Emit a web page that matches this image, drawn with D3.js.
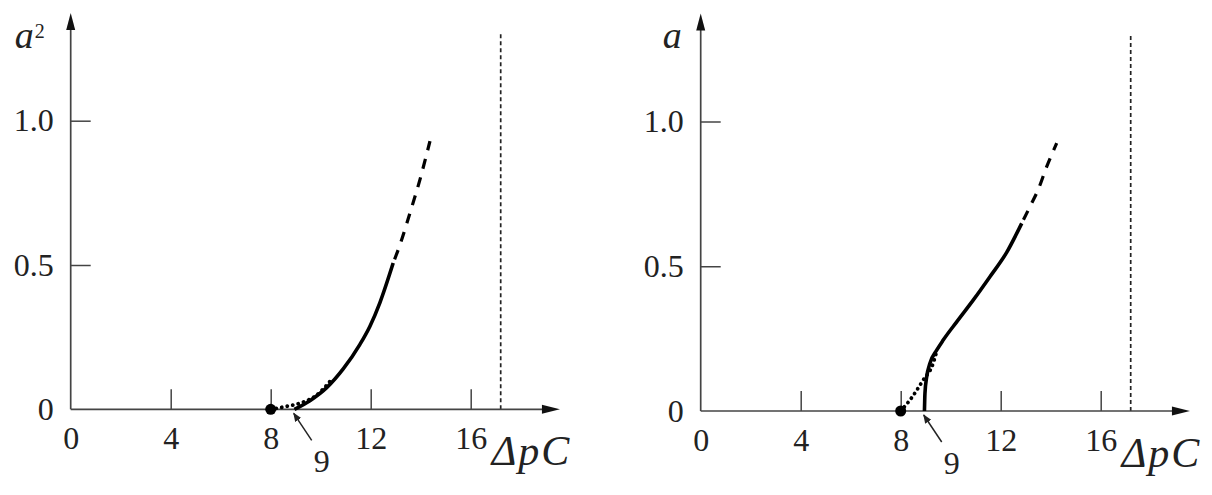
<!DOCTYPE html>
<html>
<style>
body { margin: 0; background: #fff; }
svg text { font-family: 'Liberation Serif', 'DejaVu Serif', serif; fill: #222; }
.axis path.domain { display: none; }
.axis line { stroke: #444; stroke-width: 1.5px; }
</style>
<svg width="1212" height="495"></svg>
<script src="https://cdn.jsdelivr.net/npm/d3@7"></script>
<script>
// ticks and limits
var xTicks = [0, 4, 8, 12, 16];
var yTicks = [0, 0.5, 1.0];
var limitX = 17.2;
var startX = 8;
var markX = 9;

// left panel: a^2 vs dpC
var leftSolid = [[8.95, 0], [9.57, 0.03], [10.24, 0.075], [10.9, 0.14], [11.57, 0.225],
                 [11.97, 0.288], [12.37, 0.37], [12.9, 0.507]];
var leftDashed = [[12.9, 0.507], [13.17, 0.57], [13.57, 0.68], [13.97, 0.796], [14.37, 0.929]];
var leftDotted = [[8, 0], [8.5, 0.008], [9.2, 0.022], [9.85, 0.05], [10.4, 0.1]];

// right panel: a vs dpC
var rightSolid = [[8.95, 0], [8.97, 0.061], [9.04, 0.118], [9.17, 0.165], [9.44, 0.21], [9.7, 0.245],
                  [10.24, 0.308], [10.9, 0.383], [11.57, 0.464], [12.24, 0.548], [12.84, 0.648]];
var rightDashed = [[12.84, 0.648], [13.17, 0.706], [13.5, 0.765], [13.84, 0.844], [14.24, 0.925]];
var rightDotted = [[8, 0], [8.37, 0.038], [8.9, 0.107], [9.3, 0.165], [9.45, 0.21]];

var svg = d3.select("svg");
var serif = "'Liberation Serif', 'DejaVu Serif', serif";

svg.append("defs").append("marker")
    .attr("id", "tip")
    .attr("viewBox", "0 0 10 10")
    .attr("refX", 9).attr("refY", 5)
    .attr("markerWidth", 9).attr("markerHeight", 9)
    .attr("markerUnits", "userSpaceOnUse")
    .attr("orient", "auto")
  .append("path")
    .attr("d", "M0,1 L10,5 L0,9 Z")
    .attr("fill", "#222");

var panels = [
  { ox: 70.7, y0: 409.3, y1: 120.7, ylab: "a", sup: "2", solid: leftSolid, dashed: leftDashed, dotted: leftDotted },
  { ox: 700.7, y0: 411, y1: 121.5, ylab: "a", sup: null, solid: rightSolid, dashed: rightDashed, dotted: rightDotted }
];

panels.forEach(function(p) {
  var x = d3.scaleLinear().domain([0, 16]).range([p.ox, p.ox + 400]);
  var y = d3.scaleLinear().domain([0, 1]).range([p.y0, p.y1]);
  var g = svg.append("g");

  // vertical limit line
  g.append("line")
      .attr("x1", x(limitX)).attr("x2", x(limitX))
      .attr("y1", p.y0).attr("y2", 33)
      .attr("stroke", "#222").attr("stroke-width", 1.7)
      .attr("stroke-dasharray", "4,3");

  // axis lines with arrowheads
  var xEnd = x(19.57), yEnd = y(1.373);
  g.append("line")
      .attr("x1", x(0)).attr("x2", xEnd - 10)
      .attr("y1", y(0)).attr("y2", y(0))
      .attr("stroke", "#444").attr("stroke-width", 1.7);
  g.append("path")
      .attr("d", "M" + xEnd + "," + y(0) + " L" + (xEnd - 18) + "," + (y(0) - 4.5) + " L" + (xEnd - 18) + "," + (y(0) + 4.5) + " Z")
      .attr("fill", "#111");
  g.append("line")
      .attr("x1", x(0)).attr("x2", x(0))
      .attr("y1", y(0)).attr("y2", yEnd + 10)
      .attr("stroke", "#444").attr("stroke-width", 1.7);
  g.append("path")
      .attr("d", "M" + x(0) + "," + yEnd + " L" + (x(0) - 4.5) + "," + (yEnd + 17) + " L" + (x(0) + 4.5) + "," + (yEnd + 17) + " Z")
      .attr("fill", "#111");

  // x axis ticks pointing up
  var xa = g.append("g")
      .attr("class", "axis")
      .attr("transform", "translate(0," + y(0) + ")")
      .call(d3.axisBottom(x).tickValues(xTicks).tickSizeInner(-20).tickSizeOuter(0).tickPadding(17)
            .tickFormat(d3.format("d")));
  xa.attr("font-family", serif).attr("font-size", 32);
  xa.selectAll(".tick line").filter(function(d) { return d === 0; }).remove();

  // y axis ticks pointing right
  var ya = g.append("g")
      .attr("class", "axis")
      .attr("transform", "translate(" + x(0) + ",0)")
      .call(d3.axisLeft(y).tickValues(yTicks).tickSizeInner(-20).tickSizeOuter(0).tickPadding(17)
            .tickFormat(function(d) { return d === 0 ? "0" : d.toFixed(1); }));
  ya.attr("font-family", serif).attr("font-size", 32);
  ya.selectAll(".tick line").filter(function(d) { return d === 0; }).remove();

  var line = d3.line()
      .x(function(d) { return x(d[0]); })
      .y(function(d) { return y(d[1]); })
      .curve(d3.curveMonotoneX);

  g.append("path").datum(p.dotted)
      .attr("d", line).attr("fill", "none")
      .attr("stroke", "#000").attr("stroke-width", 3.8)
      .attr("stroke-linecap", "round").attr("stroke-dasharray", "0.1,5.5");
  g.append("path").datum(p.solid)
      .attr("d", line).attr("fill", "none")
      .attr("stroke", "#000").attr("stroke-width", 3.6);
  g.append("path").datum(p.dashed)
      .attr("d", line).attr("fill", "none")
      .attr("stroke", "#000").attr("stroke-width", 3.2)
      .attr("stroke-dasharray", "0,4,10,5");

  g.append("circle")
      .attr("cx", x(startX)).attr("cy", y(0)).attr("r", 5.5)
      .attr("fill", "#000");

  // "9" annotation
  g.append("line")
      .attr("x1", x(markX) + 16).attr("y1", y(0) + 31)
      .attr("x2", x(markX) - 2).attr("y2", y(0) + 4)
      .attr("stroke", "#222").attr("stroke-width", 1.5)
      .attr("marker-end", "url(#tip)");
  g.append("text")
      .attr("x", x(markX) + 26).attr("y", y(0) + 63)
      .attr("text-anchor", "middle")
      .style("font-size", "32px")
      .text(markX);

  // axis titles
  var yl = g.append("text")
      .attr("x", x(0) - (p.sup ? 56 : 38)).attr("y", 48)
      .style("font-size", "38px").style("font-style", "italic")
      .text(p.ylab);
  if (p.sup) {
    yl.append("tspan")
        .attr("dy", -10).attr("dx", 1)
        .style("font-size", "20px").style("font-style", "normal")
        .text(p.sup);
  }
  g.append("text")
      .attr("x", x(0) + 421).attr("y", y(0) + 56)
      .style("font-size", "42px").style("font-style", "italic")
      .style("letter-spacing", "2px")
      .text("\u0394pC");
});
</script>
</html>
